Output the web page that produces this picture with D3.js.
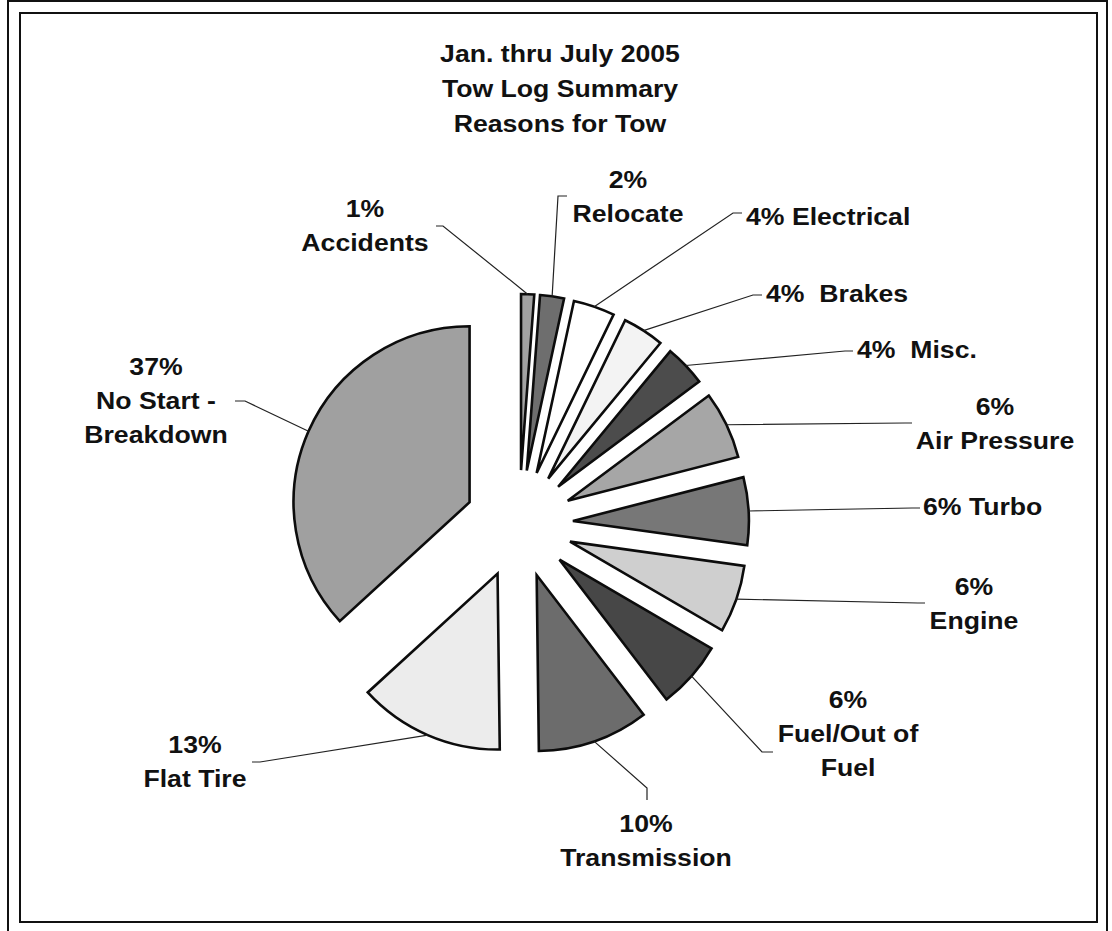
<!DOCTYPE html>
<html>
<head>
<meta charset="utf-8">
<script src="https://cdn.jsdelivr.net/npm/d3@7"></script>
<style>
  body { margin: 0; background: #fff; }
  text { font-family: "Liberation Sans", Arial, sans-serif; font-weight: bold; white-space: pre; }
</style>
</head>
<body>
<div id="chart"></div>
<script>
// slices, clockwise from 12 o'clock (percent of tows)
const reasons = ["Accidents", "Relocate", "Electrical", "Brakes", "Misc.", "Air Pressure",
  "Turbo", "Engine", "Fuel/Out of Fuel", "Transmission", "Flat Tire", "No Start - Breakdown"];
const shares = [1.2, 2.2, 3.8, 3.8, 3.8, 6.2, 6.2, 6.2, 6.2, 10.2, 13.4, 36.8];
const pctLabels = ["1%", "2%", "4%", "4%", "4%", "6%", "6%", "6%", "6%", "10%", "13%", "37%"];
const labelLines = [
  ["1%", "Accidents"],
  ["2%", "Relocate"],
  ["4% Electrical"],
  ["4%  Brakes"],
  ["4%  Misc."],
  ["6%", "Air Pressure"],
  ["6% Turbo"],
  ["6%", "Engine"],
  ["6%", "Fuel/Out of", "Fuel"],
  ["10%", "Transmission"],
  ["13%", "Flat Tire"],
  ["37%", "No Start -", "Breakdown"]
];
const titleLines = ["Jan. thru July 2005", "Tow Log Summary", "Reasons for Tow"];

const fills = ["#a2a2a2", "#6e6e6e", "#ffffff", "#f3f3f3", "#4c4c4c", "#a6a6a6",
  "#777777", "#cfcfcf", "#474747", "#6c6c6c", "#ececec", "#a0a0a0"];

// label layout: text x, first baseline, anchor, leader elbow + end
const labelPos = [
  { x: 365, y: 217, anchor: "middle", elbow: [443, 226], end: [436, 226] },
  { x: 628, y: 188, anchor: "middle", elbow: [558, 196], end: [567, 196] },
  { x: 746, y: 225, anchor: "start", elbow: [733, 213], end: [742, 213] },
  { x: 766, y: 302, anchor: "start", elbow: [753, 295], end: [762, 295] },
  { x: 857, y: 358, anchor: "start", elbow: [845, 351], end: [853, 351] },
  { x: 995, y: 415, anchor: "middle", elbow: [905, 423], end: [912, 423] },
  { x: 923, y: 515, anchor: "start", elbow: [912, 508], end: [920, 508] },
  { x: 974, y: 595, anchor: "middle", elbow: [918, 603], end: [925, 603] },
  { x: 848, y: 708, anchor: "middle", elbow: [762, 752], end: [773, 752] },
  { x: 646, y: 832, anchor: "middle", elbow: [647, 788], end: [647, 800] },
  { x: 195, y: 753, anchor: "middle", elbow: [260, 762], end: [252, 762] },
  { x: 156, y: 375, anchor: "middle", elbow: [245, 401], end: [235, 401] }
];

const width = 1112, height = 931;
const cx = 519, cy = 524, radius = 176, explode = 54;
const lineH = 34, stretch = 1.11;

const svg = d3.select("#chart").append("svg")
  .attr("width", width)
  .attr("height", height);

// double frame
svg.append("rect").attr("x", 8).attr("y", 1).attr("width", 1099).attr("height", 940)
  .attr("fill", "none").attr("stroke", "#111").attr("stroke-width", 2);
svg.append("rect").attr("x", 20).attr("y", 13).attr("width", 1077).attr("height", 909)
  .attr("fill", "none").attr("stroke", "#111").attr("stroke-width", 2);

function stretchedText(g, str, x, y, anchor) {
  g.append("text")
    .attr("transform", `translate(${x},${y}) scale(${stretch},1)`)
    .attr("text-anchor", anchor)
    .attr("font-size", 24)
    .attr("fill", "#111")
    .text(str);
}

// title
const titleG = svg.append("g");
titleLines.forEach((t, i) => stretchedText(titleG, t, 560, 62 + i * 35, "middle"));

const data = reasons.map((r, i) => ({ reason: r, value: shares[i], i }));
const pie = d3.pie().sort(null).value(d => d.value).startAngle(0).endAngle(2 * Math.PI);
const arcs = pie(data);
const arc = d3.arc().innerRadius(0).outerRadius(radius);

const pieG = svg.append("g").attr("transform", `translate(${cx},${cy})`);

pieG.selectAll("path")
  .data(arcs)
  .enter().append("path")
    .attr("d", arc)
    .attr("transform", d => {
      const a = (d.startAngle + d.endAngle) / 2;
      return `translate(${explode * Math.sin(a)},${-explode * Math.cos(a)})`;
    })
    .attr("fill", d => fills[d.data.i])
    .attr("stroke", "#0c0c0c")
    .attr("stroke-width", 2.6)
    .attr("stroke-linejoin", "miter");

// leader lines from the middle of each slice's outer arc
const leaderG = svg.append("g");
arcs.forEach((d, i) => {
  const a = (d.startAngle + d.endAngle) / 2;
  const rr = radius + explode;
  const p0 = [cx + rr * Math.sin(a), cy - rr * Math.cos(a)];
  const lp = labelPos[i];
  leaderG.append("polyline")
    .attr("points", [p0, lp.elbow, lp.end].map(p => p.join(",")).join(" "))
    .attr("fill", "none")
    .attr("stroke", "#222")
    .attr("stroke-width", 1.2);
});

// labels
const labelG = svg.append("g");
labelLines.forEach((lines, i) => {
  const lp = labelPos[i];
  lines.forEach((t, j) => stretchedText(labelG, t, lp.x, lp.y + j * lineH, lp.anchor));
});
</script>
</body>
</html>
